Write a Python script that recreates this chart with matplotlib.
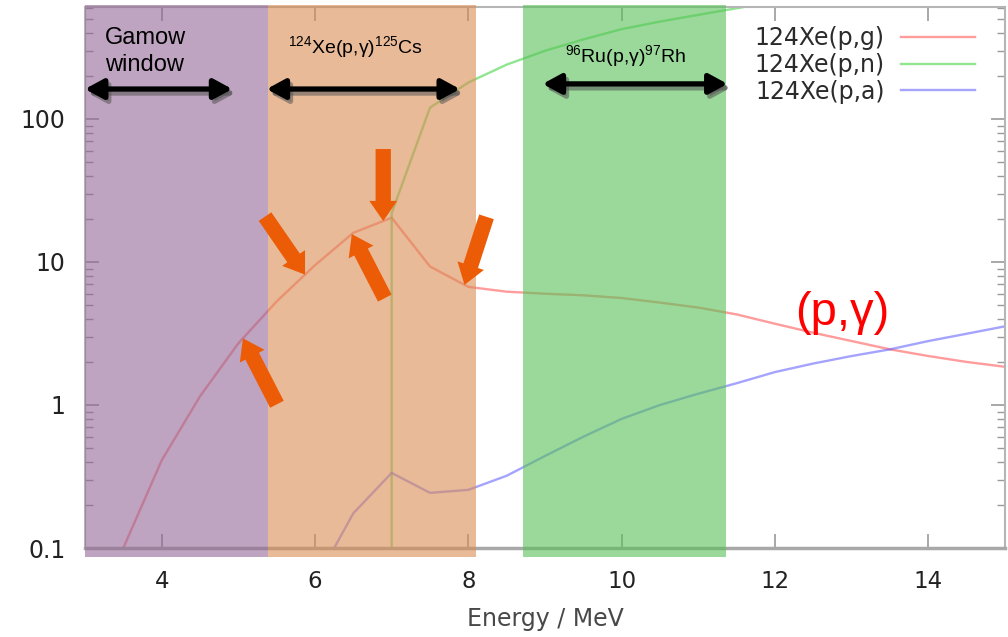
import numpy as np
import matplotlib
matplotlib.use("Agg")
import matplotlib.pyplot as plt
import matplotlib.transforms as mtransforms

plt.rcParams["mathtext.fontset"] = "custom"
plt.rcParams["mathtext.rm"] = "Liberation Sans"

# Cross sections of 124Xe + p (mb) versus proton energy (MeV)
E_pg = [3.5, 4.0, 4.5, 5.0, 5.5, 6.0, 6.5, 7.0, 7.5, 8.0, 8.5, 9.0, 9.5, 10.0,
        10.5, 11.0, 11.5, 12.0, 12.5, 13.0, 13.5, 14.0, 14.5, 15.0]
sig_pg = [0.1, 0.41, 1.15, 2.7, 5.3, 9.5, 16.0, 20.4, 9.3, 6.7, 6.2, 6.0, 5.85,
          5.6, 5.2, 4.8, 4.3, 3.7, 3.2, 2.8, 2.45, 2.2, 2.0, 1.85]

E_pn = [7.0, 7.0, 7.5, 8.0, 8.5, 9.0, 9.5, 10.0, 10.5, 11.0, 11.5, 12.0]
sig_pn = [1e-3, 22.0, 120.0, 180.0, 240.0, 300.0, 360.0, 425.0, 480.0, 535.0,
          595.0, 660.0]

E_pa = [6.25, 6.5, 7.0, 7.5, 8.0, 8.5, 9.0, 9.5, 10.0, 10.5, 11.0, 11.5, 12.0,
        12.5, 13.0, 13.5, 14.0, 14.5, 15.0]
sig_pa = [0.1, 0.175, 0.335, 0.243, 0.255, 0.32, 0.44, 0.6, 0.8, 1.0, 1.2, 1.42,
          1.7, 1.95, 2.2, 2.45, 2.8, 3.15, 3.55]

series_labels = ["124Xe(p,g)", "124Xe(p,n)", "124Xe(p,a)"]

# Energy windows (MeV)
gamow_win = (3.0, 5.39)
xe_win = (5.39, 8.10)
ru_win = (8.71, 11.36)

# Extent of the double-headed arrows (MeV)
gamow_arrow = (3.0, 4.92)
xe_arrow = (5.37, 7.89)
ru_arrow = (8.97, 11.38)

# Energies at which the orange pointers touch the (p,g) curve
arrow_E = [5.87, 5.06, 6.48, 6.89, 7.95]
arrow_offsets = [(-40, 58), (34, -66), (33, -64), (0, 72), (22, 68)]

fig = plt.figure(figsize=(10.08, 6.37), dpi=100)
ax = fig.add_axes([85 / 1008, 89 / 637, 920 / 1008, 541 / 637])
ax.set_yscale("log")
ax.set_xlim(3, 15)
ax.set_ylim(0.1, 607)

lw = 1.7
ax.plot(E_pg, sig_pg, color="#ff5a5a", alpha=0.6, lw=lw, label=series_labels[0], zorder=2)
ax.plot(E_pn, sig_pn, color="#33d233", alpha=0.55, lw=lw, label=series_labels[1], zorder=2)
ax.plot(E_pa, sig_pa, color="#5a5aff", alpha=0.55, lw=lw, label=series_labels[2], zorder=2)

# Translucent windows laid over the curves
for (lo, hi), col in [(gamow_win, "#946796"), (xe_win, "#da8c53"), (ru_win, "#57c157")]:
    ax.axvspan(lo, hi, ymin=-0.016, ymax=1.003, color=col, alpha=0.6, lw=0,
               zorder=3, clip_on=False)

# Axis styling
for side in ["left", "right", "top", "bottom"]:
    ax.spines[side].set_color("#b5b5b5")
    ax.spines[side].set_linewidth(1.5)
ax.spines["bottom"].set_linewidth(2.5)
ax.spines["bottom"].set_color("#a8a8a8")
ax.set_xticks([4, 6, 8, 10, 12, 14])
ax.set_yticks([0.1, 1, 10, 100])
ax.set_yticklabels(["0.1", "1", "10", "100"])
ax.tick_params(axis="both", which="both", direction="in", color="#999999",
               top=True, right=True)
ax.tick_params(axis="x", which="major", length=10, width=1.2, labelsize=16.5,
               labelcolor="#222222", pad=16)
ax.tick_params(axis="y", which="major", length=10, width=1.2, labelsize=17,
               labelcolor="#222222", pad=14)
ax.tick_params(axis="y", which="minor", length=6, width=1.0)
ax.set_xlabel("Energy / MeV", fontsize=17, color="#484848", labelpad=10)

# Legend in the upper right corner, text before sample line
leg = ax.legend(loc="upper right", bbox_to_anchor=(0.967, 0.965), frameon=False,
                markerfirst=False, fontsize=17, handlelength=3.1,
                handletextpad=0.7, labelspacing=0.12, borderpad=0,
                borderaxespad=0)
for t in leg.get_texts():
    t.set_color("#2b2b2b")
leg.set_zorder(6)

# Double-headed arrows with a drop shadow
shadow = mtransforms.offset_copy(ax.transData, fig=fig, x=3, y=-4, units="dots")
arrow_style = "<|-|>,head_length=1.1,head_width=0.6"
for (x0, x1), yv in [(gamow_arrow, 162), (xe_arrow, 162), (ru_arrow, 176)]:
    ax.annotate("", xy=(x1, yv), xytext=(x0, yv), xycoords=shadow, textcoords=shadow,
                arrowprops=dict(arrowstyle=arrow_style, color="#555555", alpha=0.55,
                                lw=3.8, shrinkA=0, shrinkB=0, mutation_scale=10),
                zorder=4)
    ax.annotate("", xy=(x1, yv), xytext=(x0, yv),
                arrowprops=dict(arrowstyle=arrow_style, color="black", lw=3.8,
                                shrinkA=0, shrinkB=0, mutation_scale=10),
                zorder=5)

# Orange pointers onto the (p,g) curve
logE = np.array(E_pg)
logS = np.log10(sig_pg)
for e, off in zip(arrow_E, arrow_offsets):
    yv = 10 ** np.interp(e, logE, logS)
    ax.annotate("", xy=(e, yv), xytext=off, textcoords="offset pixels",
                arrowprops=dict(arrowstyle="simple,head_length=1.45,head_width=2.0,tail_width=1.1",
                                color="#ec5c06", lw=0, shrinkA=0, shrinkB=0,
                                mutation_scale=10),
                zorder=5)

# Labels
ax.text(0.0217, 0.918, "Gamow\nwindow", transform=ax.transAxes, ha="left",
        va="center", fontsize=17, family="Liberation Sans", color="black",
        linespacing=1.3, zorder=6)
ax.text(0.2935, 0.926, r"$\mathregular{^{124}}$Xe(p,γ)$\mathregular{^{125}}$Cs",
        transform=ax.transAxes, ha="center", va="center", fontsize=14,
        family="Liberation Sans", color="black", zorder=6)
ax.text(0.588, 0.909, r"$\mathregular{^{96}}$Ru(p,γ)$\mathregular{^{97}}$Rh",
        transform=ax.transAxes, ha="center", va="center", fontsize=14,
        family="Liberation Sans", color="black", zorder=6)
ax.text(0.823, 0.435, "(p,γ)", transform=ax.transAxes, ha="center", va="center",
        fontsize=34, family="Liberation Sans", color="#ff0000", zorder=6)

fig.savefig("out.png", dpi=100)
